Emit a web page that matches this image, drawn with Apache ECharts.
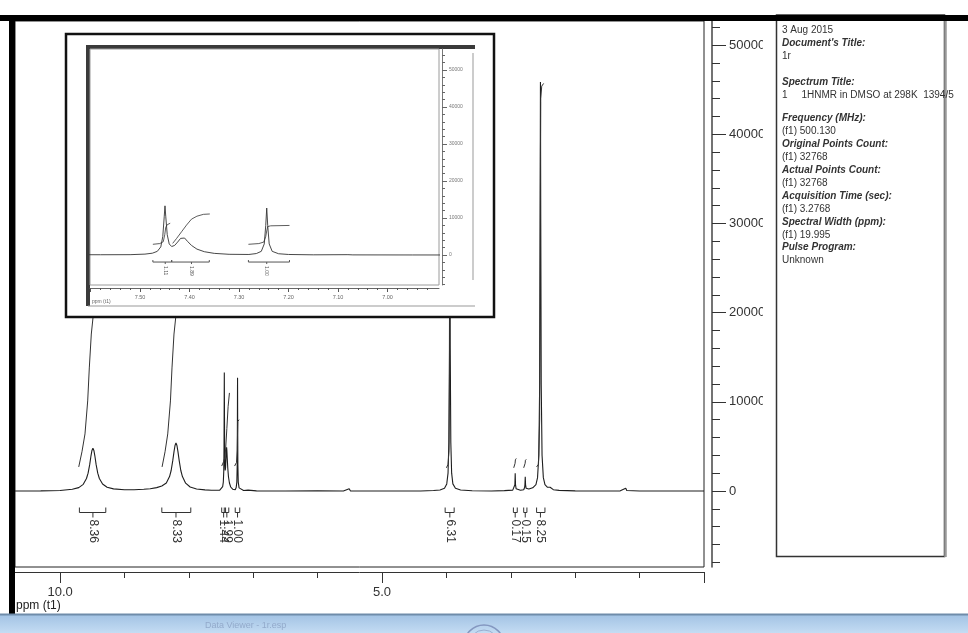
<!DOCTYPE html>
<html>
<head>
<meta charset="utf-8">
<title>1r 1HNMR</title>
<script src="https://cdn.jsdelivr.net/npm/echarts@6/dist/echarts.min.js"></script>
<style>
html, body { margin: 0; padding: 0; background: #fff; }
#main { width: 968px; height: 633px; }
</style>
</head>
<body>
<div id="main"></div>
<script>
// 1H NMR 谱图 (DMSO, 500 MHz) + 局部放大 7.6 - 6.9 ppm

// 谱线：化学位移(ppm) 与 强度
var specPpm = [10.70, 10.30, 10.00, 9.81, 9.71, 9.64, 9.59, 9.565, 9.54, 9.52, 9.505, 9.49, 9.475, 9.46, 9.44, 9.415, 9.39, 9.34, 9.27, 9.17,
    9.00, 8.85, 8.70, 8.60, 8.50, 8.42, 8.35, 8.30, 8.275, 8.25, 8.23, 8.215, 8.20, 8.185, 8.17, 8.15, 8.125, 8.10, 8.05, 7.98,
    7.88, 7.75, 7.65, 7.58, 7.52, 7.49, 7.475, 7.465, 7.458, 7.454, 7.451, 7.4495, 7.448, 7.445, 7.441, 7.436, 7.43, 7.424, 7.418, 7.414,
    7.41, 7.404, 7.396, 7.385, 7.37, 7.35, 7.32, 7.28, 7.265, 7.255, 7.249, 7.246, 7.244, 7.242, 7.239, 7.233, 7.22, 7.20, 7.15, 7.08,
    7.07, 6.95, 6.50, 6.00, 5.60, 5.51, 5.49, 4.40, 4.20, 4.10, 4.03, 3.995, 3.975, 3.962, 3.953, 3.947, 3.941, 3.932, 3.919, 3.90,
    3.86, 3.78, 3.60, 3.30, 3.10, 2.97, 2.945, 2.937, 2.932, 2.927, 2.918, 2.90, 2.85, 2.80, 2.786, 2.781, 2.776, 2.771, 2.762, 2.72,
    2.66, 2.61, 2.585, 2.565, 2.552, 2.545, 2.540, 2.535, 2.528, 2.515, 2.495, 2.47, 2.43, 2.40, 2.39, 2.375, 2.34, 2.25, 2.00, 1.60,
    1.30, 1.215, 1.20, 1.00, 0.50, 0.00];
var specInt = [0, 20, 50, 190, 380, 750, 1400, 2000, 2950, 3950, 4550, 4800, 4550, 3950, 2950, 2000, 1400, 780, 420, 240,
    150, 150, 190, 260, 380, 560, 900, 1620, 2300, 3400, 4450, 5100, 5400, 5100, 4450, 3400, 2300, 1620, 880, 450,
    230, 130, 90, 80, 100, 250, 500, 1000, 2200, 5000, 10500, 13300, 10500, 5500, 3000, 2300, 2600, 3500, 4500, 4900,
    4600, 3700, 2600, 1600, 900, 450, 200, 150, 400, 1000, 3000, 8000, 12700, 8000, 3000, 1000, 350, 150, 60, 100,
    40, 20, 0, 30, 0, 250, 0, 0, 60, 120, 300, 800, 2000, 5500, 16000, 36000, 16000, 5500, 2000, 800,
    300, 120, 30, 0, 40, 100, 260, 700, 2000, 700, 260, 110, 80, 140, 400, 700, 1600, 700, 300, 220,
    360, 720, 1500, 4000, 12000, 30000, 45850, 30000, 12000, 4000, 1500, 720, 420, 380, 420, 250, 150, 70, 20, 0,
    20, 300, 60, 0, 0, 0];

// 积分曲线 [ppm, 值]
var integral836 = [[9.71, 2700], [9.66, 4400], [9.613, 6400], [9.571, 10100], [9.546, 13800], [9.515, 17600], [9.489, 19400], [9.46, 28000], [9.43, 36000], [9.38, 42000], [9.30, 45000], [9.20, 46200]];
var integral833 = [[8.416, 2700], [8.37, 4400], [8.328, 6400], [8.286, 10100], [8.262, 13800], [8.231, 17600], [8.205, 19400], [8.17, 28000], [8.14, 36000], [8.09, 42000], [8.01, 45000], [7.91, 46000]];
var integral199 = [[7.49, 2800], [7.46, 3300], [7.44, 3800], [7.43, 4600], [7.41, 7000], [7.39, 9500], [7.37, 11000]];
var integral100 = [[7.29, 2800], [7.26, 3200], [7.248, 4500], [7.244, 6500], [7.24, 7800], [7.22, 8000]];
var integral631 = [[4.00, 2600], [3.975, 3000], [3.960, 4500], [3.953, 12000], [3.947, 22000], [3.941, 31000], [3.932, 35000], [3.90, 36000]];
var integral017 = [[2.955, 2600], [2.942, 2750], [2.934, 3100], [2.929, 3500], [2.915, 3650]];
var integral015 = [[2.80, 2600], [2.786, 2750], [2.778, 3100], [2.773, 3450], [2.76, 3550]];
var integral825 = [[2.60, 2700], [2.57, 3000], [2.552, 8000], [2.545, 24000], [2.540, 38000], [2.535, 44000], [2.52, 45400], [2.49, 45700]];

// 局部放大图中的积分曲线
var insetIntA = [[7.474, 2900], [7.46, 3100], [7.453, 3600], [7.450, 5500], [7.448, 7500], [7.445, 8200], [7.439, 8600]];
var insetIntB = [[7.434, 3150], [7.426, 4500], [7.416, 6300], [7.406, 8100], [7.396, 9700], [7.385, 10500], [7.372, 11000], [7.359, 11100]];
var insetIntC = [[7.281, 2900], [7.26, 3100], [7.25, 3500], [7.246, 5000], [7.244, 6500], [7.242, 7700], [7.236, 7900], [7.198, 8000]];

// 积分标注（起点、终点、中心、数值）
var mainIntFrom = [9.70, 8.42, 7.49, 7.45, 7.28, 4.02, 2.96, 2.80, 2.60];
var mainIntTo = [9.29, 7.97, 7.43, 7.38, 7.21, 3.88, 2.90, 2.75, 2.47];
var mainIntAt = [9.49, 8.20, 7.46, 7.41, 7.244, 3.947, 2.932, 2.776, 2.54];
var mainIntLabel = ['8.36', '8.33', '1.44', '1.99', '1.00', '6.31', '0.17', '0.15', '8.25'];

var insetIntFrom = [7.474, 7.436, 7.281];
var insetIntTo = [7.436, 7.360, 7.198];
var insetIntAt = [7.449, 7.396, 7.244];
var insetIntLabel = ['1.11', '1.89', '1.00'];

// 刻度
var mainXMajor = [0, 5, 10];
var mainXLabels = [5, 10];
var mainXMinor = [1, 2, 3, 4, 6, 7, 8, 9];
var mainYMajor = [0, 10000, 20000, 30000, 40000, 50000];
var mainYMinor = [-8000, -6000, -4000, -2000, 2000, 4000, 6000, 8000, 12000, 14000, 16000, 18000, 22000, 24000, 26000, 28000,
    32000, 34000, 36000, 38000, 42000, 44000, 46000, 48000, 52000];
var insetXMajor = [7.0, 7.1, 7.2, 7.3, 7.4, 7.5, 7.6];
var insetXLabels = [7.0, 7.1, 7.2, 7.3, 7.4, 7.5];
var insetYMajor = [0, 10000, 20000, 30000, 40000, 50000];

var insetXMinor = [];
for (var k = 690; k <= 760; k += 2) {
    if (k % 10 !== 0) insetXMinor.push(k / 100);
}
var insetYMinor = [];
for (var m = -8000; m <= 54000; m += 2000) {
    if (m % 10000 !== 0) insetYMinor.push(m);
}

// 信息框文字
var infoLines = ['3 Aug 2015', "Document's Title:", '1r', '', 'Spectrum Title:', '1     1HNMR in DMSO at 298K  1394/5',
    'Frequency (MHz):', '(f1) 500.130', 'Original Points Count:', '(f1) 32768', 'Actual Points Count:', '(f1) 32768',
    'Acquisition Time (sec):', '(f1) 3.2768', 'Spectral Width (ppm):', '(f1) 19.995', 'Pulse Program:', 'Unknown'];
var infoY = [30, 43, 56, 69, 82, 95, 118, 131, 144, 157, 170, 183, 196, 209, 222, 235, 247, 260];
var infoBold = [0, 1, 0, 0, 1, 0, 1, 0, 1, 0, 1, 0, 1, 0, 1, 0, 1, 0];

var chart = echarts.init(document.getElementById('main'));

function toPairs(xs, ys) {
    return xs.map(function (x, i) { return [x, ys[i]]; });
}

// 积分标注：└─┬─┘ + 竖排数值
function bracketItem(labels, drop, arm, fontSize, color) {
    return function (params, api) {
        var a = api.coord([api.value(0), 0]);
        var b = api.coord([api.value(1), 0]);
        var c = api.coord([api.value(2), 0]);
        var y = c[1] + drop;
        return {
            type: 'group',
            children: [
                { type: 'polyline', shape: { points: [[a[0], y - arm], [a[0], y], [b[0], y], [b[0], y - arm]] }, style: { stroke: color, fill: null, lineWidth: 1 } },
                { type: 'line', shape: { x1: c[0], y1: y, x2: c[0], y2: y + arm }, style: { stroke: color, lineWidth: 1 } },
                {
                    type: 'text', x: c[0], y: y + arm + 2, rotation: -Math.PI / 2,
                    style: { text: labels[params.dataIndex], fontSize: fontSize, fontFamily: 'Liberation Sans', fill: color, align: 'left', verticalAlign: 'middle' }
                }
            ]
        };
    };
}

function intLine(data, xi, yi, z, width) {
    return {
        type: 'line', xAxisIndex: xi, yAxisIndex: yi, data: data, showSymbol: false, silent: true, z: z,
        lineStyle: { color: '#333', width: width }
    };
}

var labelFont = 'Liberation Sans';

var graphics = [
    // 信息框
    { type: 'rect', z: 1, shape: { x: 776.5, y: 15, width: 168, height: 541.5 }, style: { fill: '#fff', stroke: '#333', lineWidth: 1.5 } },
    { type: 'line', z: 2, shape: { x1: 945.5, y1: 15, x2: 945.5, y2: 557 }, style: { stroke: '#999', lineWidth: 2.5 } },
    // y 轴标签被截断的部分
    { type: 'rect', z: 5, shape: { x: 763, y: 22, width: 12, height: 535 }, style: { fill: '#fff' } },
    // 局部放大图背景
    { type: 'rect', z: 10, shape: { x: 66, y: 34, width: 428, height: 283 }, style: { fill: '#fff', stroke: '#111', lineWidth: 2.5 } },
    { type: 'line', z: 11, shape: { x1: 88, y1: 45, x2: 88, y2: 306 }, style: { stroke: '#3a3a3a', lineWidth: 4 } },
    { type: 'line', z: 11, shape: { x1: 86, y1: 47, x2: 475, y2: 47 }, style: { stroke: '#3a3a3a', lineWidth: 4 } },
    { type: 'line', z: 11, shape: { x1: 473, y1: 53, x2: 473, y2: 280 }, style: { stroke: '#999', lineWidth: 1 } },
    { type: 'line', z: 11, shape: { x1: 88, y1: 306, x2: 475, y2: 306 }, style: { stroke: '#999', lineWidth: 1 } },
    { type: 'text', z: 13, x: 92, y: 302, style: { text: 'ppm (t1)', fontSize: 5, fontFamily: labelFont, fill: '#666', verticalAlign: 'middle' } },
    // 主图 x 轴名称
    { type: 'text', z: 13, x: 16, y: 606, style: { text: 'ppm (t1)', fontSize: 12, fontFamily: labelFont, fill: '#222', verticalAlign: 'middle' } },
    // 窗口边框
    { type: 'rect', z: 30, shape: { x: 0, y: 15, width: 968, height: 6 }, style: { fill: '#000' } },
    { type: 'rect', z: 30, shape: { x: 9, y: 15, width: 6, height: 600 }, style: { fill: '#000' } },
    // 任务栏
    {
        type: 'rect', z: 30, shape: { x: 0, y: 615, width: 968, height: 18 },
        style: { fill: new echarts.graphic.LinearGradient(0, 0, 0, 1, [{ offset: 0, color: '#a3c3e4' }, { offset: 1, color: '#c4dcf3' }]) }
    },
    { type: 'line', z: 31, shape: { x1: 0, y1: 614.5, x2: 968, y2: 614.5 }, style: { stroke: '#6f8caa', lineWidth: 2 } },
    { type: 'circle', z: 31, shape: { cx: 484, cy: 645, r: 20 }, style: { fill: 'none', stroke: '#8497c0', lineWidth: 1.5 } },
    { type: 'circle', z: 31, shape: { cx: 484, cy: 645, r: 15 }, style: { fill: 'none', stroke: '#9aaed0', lineWidth: 1 } },
    { type: 'text', z: 31, x: 205, y: 626, style: { text: 'Data Viewer - 1r.esp', fontSize: 9, fontFamily: labelFont, fill: '#93aacb', verticalAlign: 'middle' } }
];

infoLines.forEach(function (t, i) {
    if (!t) return;
    graphics.push({
        type: 'text', z: 3, x: 782, y: infoY[i],
        style: {
            text: t, fontSize: 10, fontFamily: labelFont, fill: '#333', verticalAlign: 'middle',
            fontWeight: infoBold[i] ? 'bold' : 'normal', fontStyle: infoBold[i] ? 'italic' : 'normal'
        }
    });
});

var option = {
    animation: false,
    backgroundColor: '#fff',
    grid: [
        { left: 15, top: 21, width: 689, height: 546, show: true, borderColor: '#222', borderWidth: 1, backgroundColor: 'transparent' },
        { left: 90, top: 49, width: 349, height: 236, show: true, z: 12, borderColor: '#9a9a9a', borderWidth: 1, backgroundColor: 'transparent' }
    ],
    xAxis: [
        {
            gridIndex: 0, type: 'value', min: 0, max: 10.7, inverse: true, position: 'bottom', offset: 5,
            axisLine: { show: true, onZero: false, lineStyle: { color: '#333', width: 1 } },
            axisTick: { show: true, customValues: mainXMajor, length: 11, lineStyle: { color: '#333' } },
            axisLabel: { customValues: mainXLabels, formatter: function (v) { return v.toFixed(1); }, margin: 14, fontSize: 13, color: '#333', fontFamily: labelFont },
            splitLine: { show: false }
        },
        {
            gridIndex: 0, type: 'value', min: 0, max: 10.7, inverse: true, position: 'bottom', offset: 5,
            axisLine: { show: false, onZero: false },
            axisTick: { show: true, customValues: mainXMinor, length: 6, lineStyle: { color: '#333' } },
            axisLabel: { show: false }, splitLine: { show: false }
        },
        {
            gridIndex: 1, type: 'value', min: 6.896, max: 7.601, inverse: true, position: 'bottom', offset: 3, z: 13,
            axisLine: { show: true, onZero: false, lineStyle: { color: '#666', width: 1 } },
            axisTick: { show: true, customValues: insetXMajor, length: 4, lineStyle: { color: '#555' } },
            axisLabel: { customValues: insetXLabels, formatter: function (v) { return v.toFixed(2); }, margin: 6, fontSize: 5.5, color: '#666', fontFamily: labelFont },
            splitLine: { show: false }
        },
        {
            gridIndex: 1, type: 'value', min: 6.896, max: 7.601, inverse: true, position: 'bottom', offset: 3, z: 13,
            axisLine: { show: false, onZero: false },
            axisTick: { show: true, customValues: insetXMinor, length: 2, lineStyle: { color: '#555' } },
            axisLabel: { show: false }, splitLine: { show: false }
        }
    ],
    yAxis: [
        {
            gridIndex: 0, type: 'value', min: -8520, max: 52700, position: 'right', offset: 8,
            axisLine: { show: true, onZero: false, lineStyle: { color: '#444', width: 1.5 } },
            axisTick: { show: true, customValues: mainYMajor, length: 14, lineStyle: { color: '#333' } },
            axisLabel: { customValues: mainYMajor, formatter: function (v) { return String(v); }, margin: 17, fontSize: 13, color: '#333', fontFamily: labelFont },
            splitLine: { show: false }
        },
        {
            gridIndex: 0, type: 'value', min: -8520, max: 52700, position: 'right', offset: 8,
            axisLine: { show: false, onZero: false },
            axisTick: { show: true, customValues: mainYMinor, length: 8, lineStyle: { color: '#333' } },
            axisLabel: { show: false }, splitLine: { show: false }
        },
        {
            gridIndex: 1, type: 'value', min: -8100, max: 55700, position: 'right', offset: 3, z: 13,
            axisLine: { show: true, onZero: false, lineStyle: { color: '#777', width: 1 } },
            axisTick: { show: true, customValues: insetYMajor, length: 5, lineStyle: { color: '#666' } },
            axisLabel: { customValues: insetYMajor, formatter: function (v) { return String(v); }, margin: 7, fontSize: 5, color: '#777', fontFamily: labelFont },
            splitLine: { show: false }
        },
        {
            gridIndex: 1, type: 'value', min: -8100, max: 55700, position: 'right', offset: 3, z: 13,
            axisLine: { show: false, onZero: false },
            axisTick: { show: true, customValues: insetYMinor, length: 3, lineStyle: { color: '#666' } },
            axisLabel: { show: false }, splitLine: { show: false }
        }
    ],
    graphic: { elements: graphics },
    series: [
        {
            type: 'line', xAxisIndex: 0, yAxisIndex: 0, data: toPairs(specPpm, specInt), showSymbol: false, silent: true, z: 2,
            lineStyle: { color: '#1e1e1e', width: 1.1 }
        },
        intLine(integral836, 0, 0, 2, 1),
        intLine(integral833, 0, 0, 2, 1),
        intLine(integral199, 0, 0, 2, 1),
        intLine(integral100, 0, 0, 2, 1),
        intLine(integral631, 0, 0, 2, 1),
        intLine(integral017, 0, 0, 2, 1),
        intLine(integral015, 0, 0, 2, 1),
        intLine(integral825, 0, 0, 2, 1),
        {
            type: 'custom', coordinateSystem: 'cartesian2d', xAxisIndex: 0, yAxisIndex: 0, silent: true, clip: false, z: 3,
            renderItem: bracketItem(mainIntLabel, 21.5, 5, 12, '#333'),
            encode: { x: [0, 1, 2], y: 3 },
            data: mainIntFrom.map(function (v, i) { return [v, mainIntTo[i], mainIntAt[i], 0]; })
        },
        // 局部放大
        {
            type: 'line', xAxisIndex: 2, yAxisIndex: 2, data: toPairs(specPpm, specInt), showSymbol: false, silent: true, z: 14, clip: true,
            lineStyle: { color: '#333', width: 0.9 }
        },
        intLine(insetIntA, 2, 2, 14, 0.8),
        intLine(insetIntB, 2, 2, 14, 0.8),
        intLine(insetIntC, 2, 2, 14, 0.8),
        {
            type: 'custom', coordinateSystem: 'cartesian2d', xAxisIndex: 2, yAxisIndex: 2, silent: true, clip: false, z: 14,
            renderItem: bracketItem(insetIntLabel, 7, 2, 5, '#555'),
            encode: { x: [0, 1, 2], y: 3 },
            data: insetIntFrom.map(function (v, i) { return [v, insetIntTo[i], insetIntAt[i], 0]; })
        }
    ]
};

chart.setOption(option);
</script>
</body>
</html>
